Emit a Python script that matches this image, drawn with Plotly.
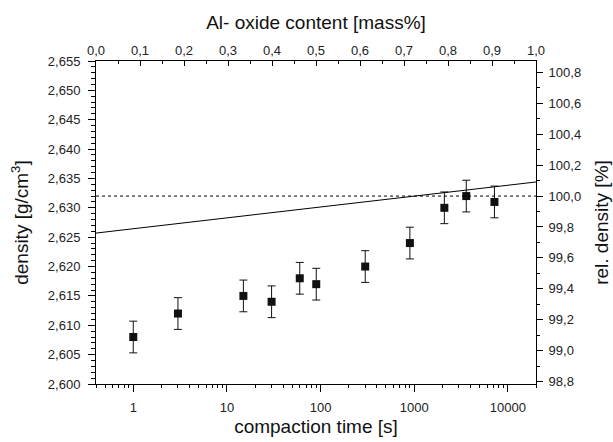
import plotly.graph_objects as go

# Data
compaction_time = [1, 3, 15, 30, 60, 90, 300, 900, 2100, 3600, 7200]
density = [2.608, 2.612, 2.615, 2.614, 2.618, 2.617, 2.620, 2.624, 2.630, 2.632, 2.631]
density_err = [0.0027, 0.0027, 0.0027, 0.0027, 0.0027, 0.0027, 0.0027, 0.0027, 0.0027, 0.0027, 0.0027]

oxide_content = [0.0, 1.0]
theoretical_density = [2.6257, 2.6344]
reference_density = 2.632

x_tickvals = [1, 10, 100, 1000, 10000]
x_ticktext = ["1", "10", "100", "1000", "10000"]
x_minor = [0.4, 0.5, 0.6, 0.7, 0.8, 0.9] + [m * 10 ** e for e in range(0, 4) for m in range(2, 10)] + [20000]

top_tickvals = [i / 10 for i in range(11)]
top_ticktext = [("%.1f" % v).replace(".", ",") for v in top_tickvals]
top_minor = [i / 20 for i in range(21)]

y_tickvals = [2.600 + 0.005 * i for i in range(12)]
y_ticktext = [("%.3f" % v).replace(".", ",") for v in y_tickvals]
y_minor = [2.600 + 0.001 * i for i in range(56)]

rel_tickvals = [98.8 + 0.2 * i for i in range(11)]
rel_ticktext = [("%.1f" % v).replace(".", ",") for v in rel_tickvals]
rel_minor = [98.8 + 0.1 * i for i in range(21)]

y_range = [2.600, 2.655]
rel_range = [v / reference_density * 100 for v in y_range]

font_family = "Liberation Sans, Arial, sans-serif"

fig = go.Figure()

fig.add_trace(go.Scatter(
    x=compaction_time, y=density, mode="markers",
    marker=dict(symbol="square", size=8, color="#111111"),
    error_y=dict(type="data", array=density_err, color="#111111", thickness=1, width=4),
    xaxis="x", yaxis="y", showlegend=False,
))

fig.add_trace(go.Scatter(
    x=oxide_content, y=theoretical_density, mode="lines",
    line=dict(color="black", width=1),
    xaxis="x2", yaxis="y", showlegend=False,
))

fig.add_trace(go.Scatter(
    x=oxide_content, y=[reference_density, reference_density], mode="lines",
    line=dict(color="black", width=1, dash="dot"),
    xaxis="x2", yaxis="y", showlegend=False,
))

# invisible trace to activate right axis
fig.add_trace(go.Scatter(
    x=oxide_content, y=[100, 100], mode="lines",
    line=dict(color="rgba(0,0,0,0)", width=0),
    xaxis="x2", yaxis="y2", showlegend=False, hoverinfo="skip",
))

tickfont = dict(family=font_family, size=13, color="#222222")
titlefont = dict(family=font_family, size=19, color="#111111")

fig.update_layout(
    width=613, height=442,
    margin=dict(l=96, r=77, t=61, b=58),
    paper_bgcolor="white", plot_bgcolor="white",
    font=dict(family=font_family),
    xaxis=dict(
        type="log", range=[-0.39794, 4.30103], automargin=False,
        tickvals=x_tickvals, ticktext=x_ticktext,
        ticks="outside", ticklen=7, tickwidth=1, tickcolor="black",
        ticklabelstandoff=4,
        minor=dict(tickvals=x_minor, ticks="outside", ticklen=3, tickcolor="black", showgrid=False),
        showline=True, linecolor="black", linewidth=1,
        showgrid=False, zeroline=False, tickfont=tickfont,
        title=dict(text="compaction time [s]", font=titlefont, standoff=6),
    ),
    xaxis2=dict(
        overlaying="x", side="top", range=[0, 1], automargin=False,
        tickvals=top_tickvals, ticktext=top_ticktext,
        ticks="inside", ticklen=5, tickwidth=1, tickcolor="black",
        minor=dict(tickvals=top_minor, ticks="inside", ticklen=3, tickcolor="black", showgrid=False),
        showline=True, linecolor="black", linewidth=1,
        showgrid=False, zeroline=False, tickfont=tickfont,
        title=dict(text="Al- oxide content [mass%]", font=titlefont, standoff=8),
    ),
    yaxis=dict(
        range=y_range, automargin=False,
        tickvals=y_tickvals, ticktext=y_ticktext,
        ticks="outside", ticklen=7, tickwidth=1, tickcolor="black",
        ticklabelstandoff=5,
        minor=dict(tickvals=y_minor, ticks="outside", ticklen=4, tickcolor="black", showgrid=False),
        showline=True, linecolor="black", linewidth=1,
        showgrid=False, zeroline=False, tickfont=tickfont,
        title=dict(text="density [g/cm<sup>3</sup>]", font=titlefont, standoff=14),
    ),
    yaxis2=dict(
        overlaying="y", side="right", range=rel_range, automargin=False,
        tickvals=rel_tickvals, ticktext=rel_ticktext,
        ticks="outside", ticklen=6, tickwidth=1, tickcolor="black",
        ticklabelstandoff=3,
        minor=dict(tickvals=rel_minor, ticks="outside", ticklen=3, tickcolor="black", showgrid=False),
        showline=True, linecolor="black", linewidth=1,
        showgrid=False, zeroline=False, tickfont=tickfont,
        title=dict(text="rel. density [%]", font=titlefont, standoff=14),
    ),
)

fig.write_html("out.html")
